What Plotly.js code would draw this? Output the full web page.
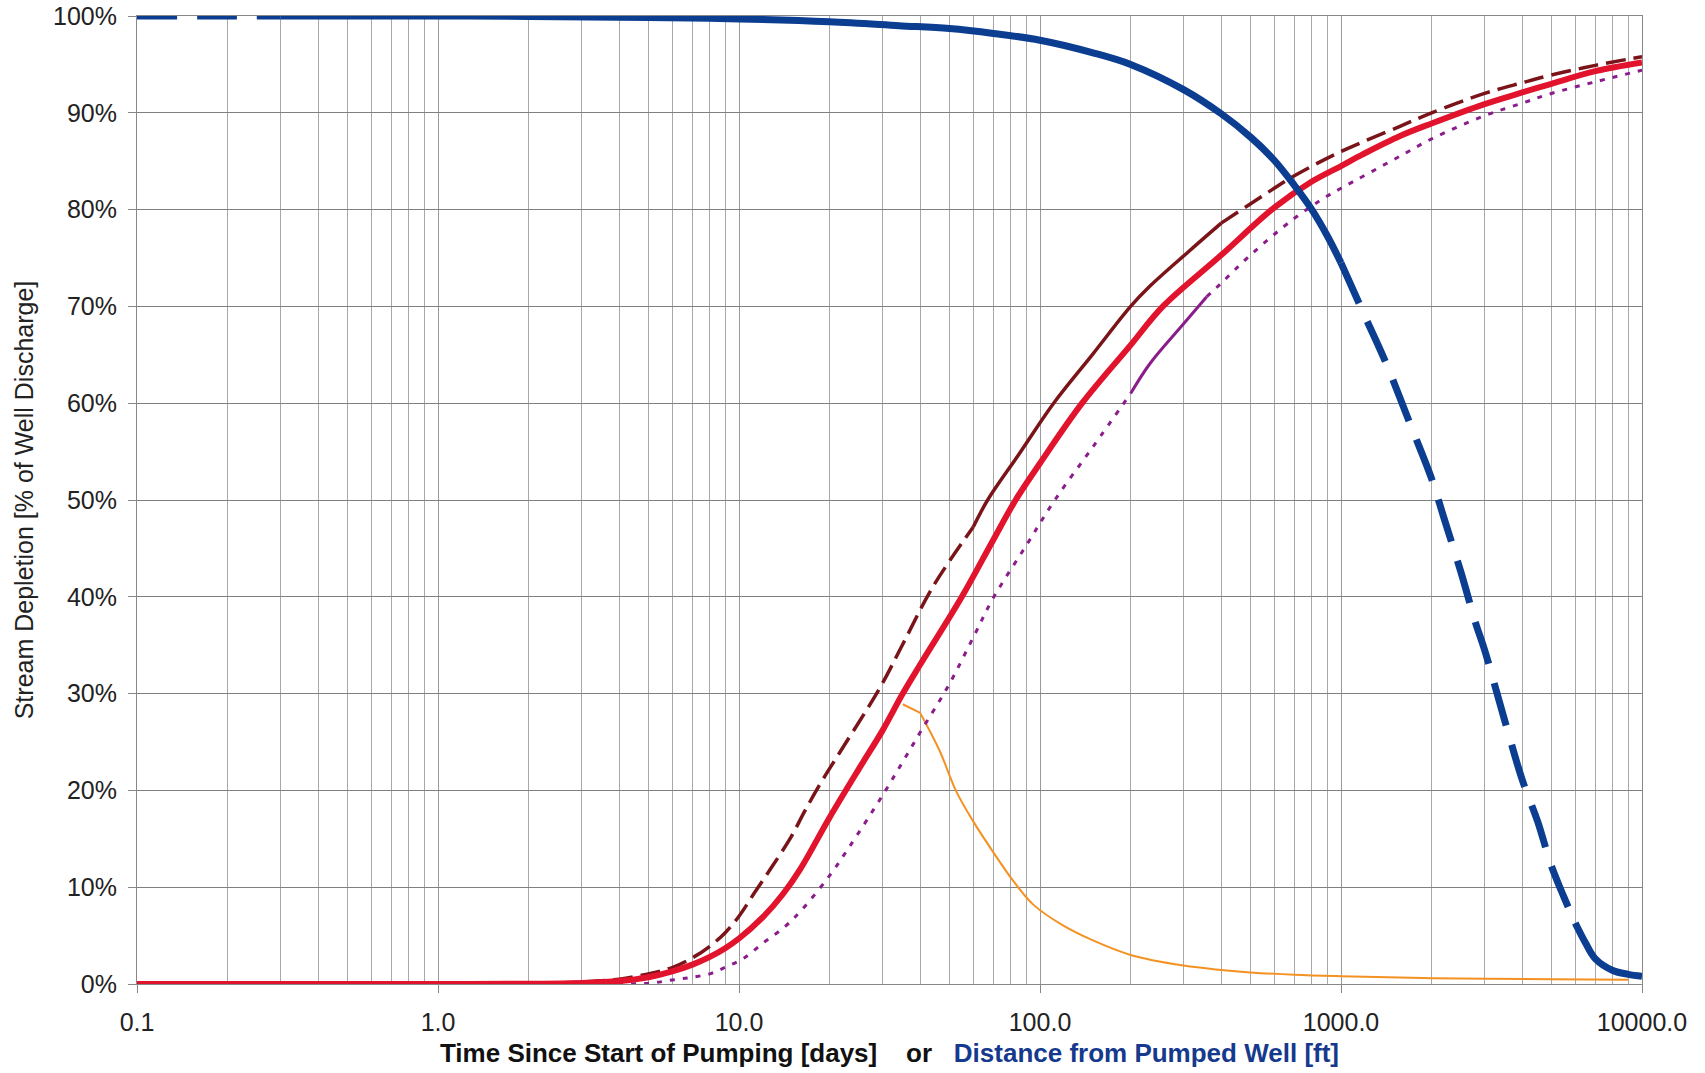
<!DOCTYPE html>
<html>
<head>
<meta charset="utf-8">
<script src="https://cdn.plot.ly/plotly-3.0.1.min.js"></script>
<style>html,body{margin:0;padding:0;background:#fff;}#chart{width:1705px;height:1073px;}</style>
</head>
<body>
<div id="chart"></div>
<script>
// ---- data ----
// Time / distance on log axis; depletion in percent
const blueX = [0.1, 0.2, 0.3, 0.5, 1, 2, 5, 10, 20, 34, 50, 70, 100, 150, 200, 300, 400, 500, 600, 700, 800, 900, 1000, 1200, 1400, 1700, 2000, 2200, 2500, 2800, 3000, 3500, 4000, 4500, 5000, 5500, 6000, 6500, 7000, 8000, 9000, 10000];
const blueY = [100, 100, 100, 100, 100, 99.95, 99.85, 99.7, 99.4, 99.0, 98.7, 98.2, 97.5, 96.2, 95.0, 92.4, 89.9, 87.5, 85.1, 82.5, 80.0, 77.3, 74.5, 69.0, 64.4, 57.8, 52.2, 48.1, 42.6, 37.3, 34.5, 27.2, 21.1, 16.8, 12.2, 9.0, 6.3, 4.2, 2.6, 1.4, 1.0, 0.8];

const redX = [0.1, 0.5, 1, 2, 3, 4, 5, 6, 7, 8, 9, 10, 12, 14, 16, 20, 25, 30, 35, 40, 55, 70, 83, 100, 138, 200, 256, 400, 600, 800, 1000, 1180, 1570, 2000, 3000, 4000, 5000, 7000, 10000];
const redY = [0, 0, 0, 0.02, 0.1, 0.3, 0.7, 1.3, 2.0, 2.8, 3.7, 4.7, 6.9, 9.3, 11.9, 17.2, 22.2, 26.2, 30.0, 33.0, 40.0, 45.9, 50.0, 53.8, 60.0, 66.0, 70.0, 75.3, 80.2, 82.9, 84.5, 85.7, 87.6, 88.9, 90.9, 92.1, 93.0, 94.3, 95.2];

const maroonX = [0.1, 0.5, 1, 2, 3, 4, 5, 6, 7, 8, 9, 10, 11.3, 12.8, 14.9, 16.5, 18.8, 22, 29.4, 35, 44, 60, 67, 85, 111, 150, 200, 232, 310, 400, 600, 700, 1000, 1570, 2000, 3000, 4000, 5000, 7000, 10000];
const maroonY = [0, 0, 0, 0.02, 0.2, 0.5, 1.05, 1.7, 2.7, 3.9, 5.3, 7.0, 9.5, 12.0, 15.2, 17.8, 20.9, 24.3, 30.6, 35.1, 41.0, 47.2, 50.0, 54.7, 60.0, 65.1, 70.0, 72.1, 75.6, 78.6, 82.2, 83.5, 86.0, 88.6, 90.0, 92.0, 93.1, 93.9, 94.9, 95.8];

const purpleX = [0.1, 1, 3, 4, 5.1, 6.1, 7, 8.1, 9.1, 10.3, 12.1, 14.3, 16.2, 20, 23.3, 30, 36, 40, 50, 60, 70, 90, 112, 150, 200, 232, 300, 358, 400, 500, 700, 900, 1000, 1525, 2000, 3000, 4000, 5000, 7000, 10000];
const purpleY = [0, 0, 0, 0.02, 0.1, 0.45, 0.7, 1.1, 1.8, 2.6, 4.3, 6.0, 7.7, 11.2, 14.2, 19.5, 23.6, 26.0, 31.0, 35.8, 39.9, 45.3, 50.0, 55.5, 61.0, 64.1, 68.2, 71.0, 72.4, 75.3, 79.1, 81.4, 82.2, 85.3, 87.3, 89.7, 91.0, 92.0, 93.2, 94.4];

const orangeX = [35, 40, 46.4, 52.7, 60, 70, 81.7, 95, 120, 150, 200, 300, 400, 500, 700, 1000, 2000, 5000, 9000];
const orangeY = [28.9, 28.0, 24.1, 19.9, 16.8, 13.6, 10.6, 8.2, 6.0, 4.5, 3.0, 1.9, 1.45, 1.2, 0.95, 0.8, 0.6, 0.5, 0.45];

const xTickVals = [0.1, 1, 10, 100, 1000, 10000];
const xTickText = ['0.1', '1.0', '10.0', '100.0', '1000.0', '10000.0'];
const yTickVals = [0, 10, 20, 30, 40, 50, 60, 70, 80, 90, 100];
const yTickText = ['0%', '10%', '20%', '30%', '40%', '50%', '60%', '70%', '80%', '90%', '100%'];

// ---- build traces ----
function segTraces(xs, ys, segs, color, width, smooth) {
  return segs.map(function (s) {
    const px = [], py = [];
    xs.forEach(function (x, i) { if (x >= s[0] && x <= s[1]) { px.push(x); py.push(ys[i]); } });
    return {
      type: 'scatter', mode: 'lines', x: px, y: py, showlegend: false, hoverinfo: 'skip',
      line: { color: color, width: width, dash: s[2], shape: smooth ? 'spline' : 'linear', smoothing: 1.0 }
    };
  });
}

const BLUE = '#0b3d91', RED = '#e2132c', MAROON = '#7a1419', PURPLE = '#8b1d8b', ORANGE = '#f39223';

const traces = [].concat(
  segTraces(orangeX, orangeY, [[0, 40, 'solid']], ORANGE, 2, false),
  segTraces(orangeX, orangeY, [[40, 1e6, 'solid']], ORANGE, 2, true),
  segTraces(purpleX, purpleY, [[0, 200, '5px,8px'], [200, 358, 'solid'], [358, 1e6, '5px,8px']], PURPLE, 3, true),
  segTraces(maroonX, maroonY, [[0, 60, '20px,8px'], [60, 400, 'solid'], [400, 1e6, '20px,8px']], MAROON, 3.5, true),
  segTraces(redX, redY, [[0, 1e6, 'solid']], RED, 6, true),
  segTraces(blueX, blueY, [[0, 0.3, '40px,20px'], [0.3, 1000, 'solid'], [1000, 6000, '44px,20px'], [6000, 1e6, 'solid']], BLUE, 7, true)
);

const layout = {
  width: 1705, height: 1073,
  margin: { l: 137, r: 63, t: 16, b: 89 },
  paper_bgcolor: '#ffffff', plot_bgcolor: '#ffffff',
  font: { family: 'Liberation Sans, Arial, sans-serif', color: '#222222', size: 25 },
  showlegend: false,
  xaxis: {
    type: 'log', range: [-1, 4],
    tickmode: 'array', tickvals: xTickVals, ticktext: xTickText,
    ticks: 'outside', ticklen: 8, tickcolor: '#888888', tickwidth: 1,
    ticklabelstandoff: 8,
    tickfont: { size: 25, color: '#222222' },
    showgrid: true, gridcolor: '#9a9a9a', gridwidth: 1,
    minor: { dtick: 'D1', showgrid: true, gridcolor: '#a8a8a8', gridwidth: 1, ticks: '' },
    showline: true, linecolor: '#888888', linewidth: 1, mirror: true,
    zeroline: false, automargin: false,
    title: {
      text: '<b>Time Since Start of Pumping [days]\u00a0\u00a0\u00a0\u00a0or\u00a0\u00a0\u00a0<span style="color:#15398c">Distance from Pumped Well [ft]</span></b>',
      font: { size: 26, color: '#111111' }, standoff: 8
    }
  },
  yaxis: {
    range: [0, 100],
    tickmode: 'array', tickvals: yTickVals, ticktext: yTickText,
    ticks: 'outside', ticklen: 8, tickcolor: '#888888', tickwidth: 1,
    ticklabelstandoff: 6,
    tickfont: { size: 25, color: '#222222' },
    showgrid: true, gridcolor: '#808080', gridwidth: 1,
    showline: true, linecolor: '#888888', linewidth: 1, mirror: true,
    zeroline: false, automargin: false,
    title: { text: 'Stream Depletion [% of Well Discharge]', font: { size: 25, color: '#222222' }, standoff: 12 }
  }
};

Plotly.newPlot('chart', traces, layout, { displayModeBar: false, staticPlot: true });
</script>
</body>
</html>
